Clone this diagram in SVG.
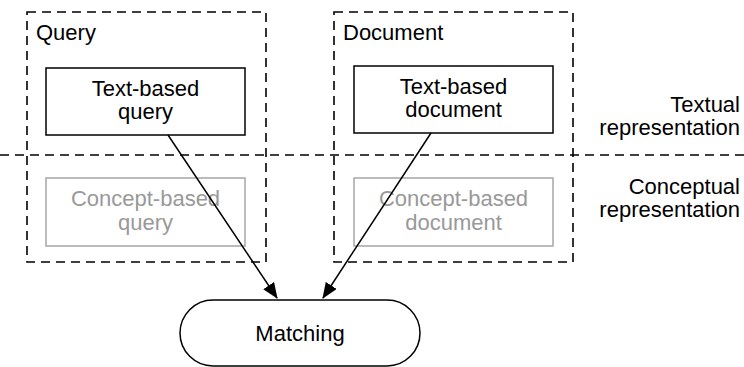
<svg xmlns="http://www.w3.org/2000/svg" width="744" height="367" viewBox="0 0 744 367">
  <style>
    text { font-family: "Liberation Sans", Arial, Helvetica, sans-serif; font-size: 22px; fill: #000; }
    .mid { text-anchor: middle; }
    .end { text-anchor: end; }
    .dim { fill: #999999; }
    .dash { fill: none; stroke: #000; stroke-width: 1.6; stroke-dasharray: 9 6; }
    .box { fill: #fff; stroke: #000; stroke-width: 1.5; }
    .box-dim { fill: #fff; stroke: #a6a6a6; stroke-width: 1.5; }
    .edge { fill: none; stroke: #000; stroke-width: 1.5; }
  </style>
  <defs>
    <marker id="arrow" markerWidth="16" markerHeight="13" refX="15" refY="6.5" orient="auto" markerUnits="userSpaceOnUse">
      <path d="M0,0 L16,6.5 L0,13 Z" fill="#000"/>
    </marker>
  </defs>

  <!-- layer separator between textual and conceptual representations -->
  <line class="dash" x1="0" y1="155" x2="744" y2="155"/>

  <!-- containers -->
  <g id="query-group">
    <rect class="dash" x="27" y="12" width="239" height="250"/>
    <text x="36" y="40">Query</text>
  </g>
  <g id="document-group">
    <rect class="dash" x="334" y="12" width="239" height="250"/>
    <text x="343" y="40">Document</text>
  </g>

  <!-- layer labels -->
  <g id="label-textual">
    <text class="end" x="740" y="111.5">Textual</text>
    <text class="end" x="740" y="135">representation</text>
  </g>
  <g id="label-conceptual">
    <text class="end" x="740" y="194">Conceptual</text>
    <text class="end" x="740" y="217">representation</text>
  </g>

  <!-- nodes -->
  <g id="text-query">
    <rect class="box" x="46" y="68" width="199" height="67"/>
    <text class="mid" x="145.5" y="96">Text-based</text>
    <text class="mid" x="145.5" y="119">query</text>
  </g>
  <g id="text-document">
    <rect class="box" x="354" y="66" width="199" height="67"/>
    <text class="mid" x="453.5" y="94">Text-based</text>
    <text class="mid" x="453.5" y="117">document</text>
  </g>
  <g id="concept-query">
    <rect class="box-dim" x="46" y="178" width="199" height="68"/>
    <text class="mid dim" x="145.5" y="206">Concept-based</text>
    <text class="mid dim" x="145.5" y="229.5">query</text>
  </g>
  <g id="concept-document">
    <rect class="box-dim" x="354" y="178" width="199" height="68"/>
    <text class="mid dim" x="453.5" y="206">Concept-based</text>
    <text class="mid dim" x="453.5" y="229.5">document</text>
  </g>
  <g id="matching">
    <rect class="box" x="180" y="300" width="240" height="66" rx="33" ry="33"/>
    <text class="mid" x="300" y="340.5">Matching</text>
  </g>

  <!-- connectors -->
  <g id="connectors">
    <line class="edge" x1="168" y1="135" x2="277" y2="298" marker-end="url(#arrow)"/>
    <line class="edge" x1="431" y1="133" x2="323" y2="298" marker-end="url(#arrow)"/>
  </g>
</svg>
